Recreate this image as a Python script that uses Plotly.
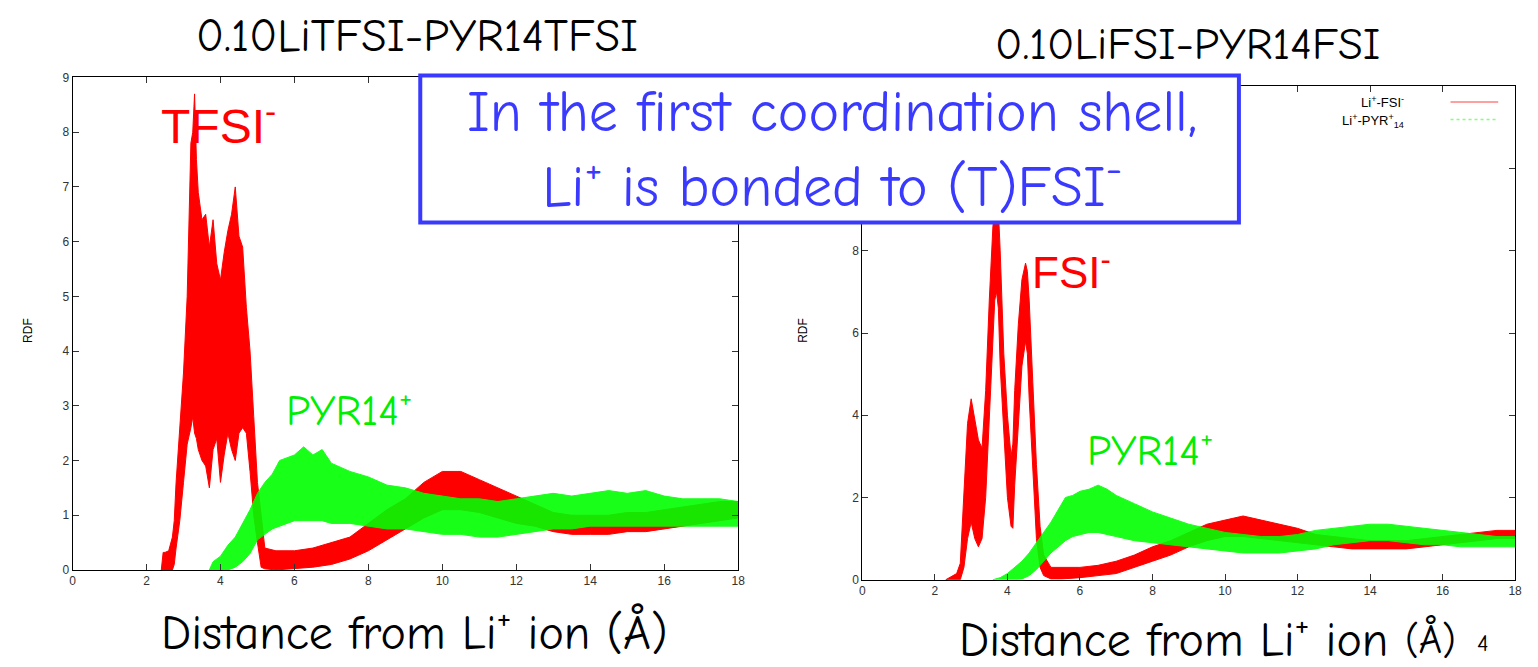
import plotly.graph_objects as go

W, H = 1538, 667

# ---------------- data ----------------
# Left panel: 0.10LiTFSI-PYR14TFSI   (noisy RDF -> lower / upper envelopes)
tfsi_x = [2.4, 2.45, 2.5, 2.6, 2.7, 2.75, 2.8, 2.9, 3.0, 3.1, 3.2, 3.25, 3.3, 3.35, 3.4, 3.5,
          3.6, 3.7, 3.8, 3.9, 4.0, 4.1, 4.2, 4.3, 4.4, 4.5, 4.6, 4.7, 4.8, 4.9, 5.0, 5.1,
          5.2, 5.5, 6.0, 6.5, 7.0, 7.5, 8.0, 8.5, 9.0, 9.5, 10.0, 10.5, 11.0, 11.5, 12.0,
          12.5, 13.0, 13.5, 14.0, 14.5, 15.0, 15.5, 16.0, 16.5, 17.0, 17.5, 18.0]
tfsi_hi = [0, 0.32, 0.32, 0.35, 0.6, 0.9, 1.6, 2.6, 3.6, 5.0, 7.8, 8.0, 8.7, 7.5, 6.9, 6.4,
           6.5, 5.9, 6.4, 5.6, 5.3, 5.8, 6.2, 6.5, 7.0, 6.1, 5.9, 4.8, 4.0, 2.8, 1.6, 1.0,
           0.4, 0.35, 0.35, 0.4, 0.5, 0.6, 0.85, 1.1, 1.3, 1.6, 1.8, 1.8, 1.65, 1.5, 1.35,
           1.2, 1.05, 1.0, 1.0, 1.0, 1.05, 1.05, 1.1, 1.15, 1.2, 1.25, 1.25]
tfsi_lo = [0, 0, 0, 0, 0, 0.1, 0.4, 0.9, 1.6, 2.3, 2.6, 2.8, 2.5, 2.4, 2.2, 2.0,
           1.9, 1.5, 2.2, 2.4, 1.6, 2.1, 2.5, 2.2, 2.0, 2.5, 2.6, 2.5, 1.8, 1.0, 0.5, 0.05,
           0.02, 0.0, 0.02, 0.05, 0.1, 0.2, 0.35, 0.55, 0.75, 0.95, 1.1, 1.1, 1.05, 0.95, 0.85,
           0.8, 0.7, 0.65, 0.65, 0.65, 0.7, 0.7, 0.75, 0.8, 0.85, 0.9, 0.95]

pyr_l_x = [3.7, 3.8, 4.0, 4.2, 4.4, 4.6, 4.8, 5.0, 5.2, 5.4, 5.6, 5.8, 6.0, 6.25, 6.5, 6.75,
           7.0, 7.5, 8.0, 8.5, 9.0, 9.5, 10.0, 10.5, 11.0, 11.5, 12.0, 12.5, 13.0, 13.5,
           14.0, 14.5, 15.0, 15.5, 16.0, 16.5, 17.0, 17.5, 18.0]
pyr_l_hi = [0, 0.15, 0.25, 0.45, 0.6, 0.85, 1.1, 1.4, 1.6, 1.75, 2.0, 2.05, 2.1, 2.25, 2.1, 2.2,
            1.95, 1.8, 1.7, 1.55, 1.5, 1.4, 1.35, 1.3, 1.3, 1.25, 1.3, 1.35, 1.4, 1.35,
            1.4, 1.45, 1.4, 1.45, 1.35, 1.3, 1.3, 1.3, 1.25]
pyr_l_lo = [0, 0, 0, 0, 0.05, 0.15, 0.3, 0.55, 0.65, 0.75, 0.8, 0.85, 0.9, 0.9, 0.9, 0.9,
            0.85, 0.85, 0.8, 0.75, 0.75, 0.7, 0.65, 0.65, 0.6, 0.6, 0.65, 0.7, 0.75, 0.75,
            0.8, 0.8, 0.8, 0.8, 0.8, 0.8, 0.8, 0.8, 0.8]

# Right panel: 0.10LiFSI-PYR14FSI
fsi_x = [2.3, 2.4, 2.5, 2.6, 2.7, 2.8, 2.9, 3.0, 3.1, 3.2, 3.3, 3.4, 3.5, 3.6, 3.65, 3.7,
         3.75, 3.8, 3.9, 4.0, 4.1, 4.15, 4.2, 4.3, 4.4, 4.5, 4.55, 4.6, 4.7, 4.8, 4.9, 5.0,
         5.2, 5.5, 6.0, 6.5, 7.0, 7.5, 8.0, 8.5, 9.0, 9.5, 10.0, 10.5, 11.0, 11.5, 12.0,
         12.5, 13.0, 13.5, 14.0, 14.5, 15.0, 15.5, 16.0, 16.5, 17.0, 17.5, 18.0]
fsi_hi = [0, 0.05, 0.1, 0.15, 0.4, 2.0, 3.8, 4.4, 3.9, 3.4, 3.2, 4.6, 6.8, 8.6, 8.9, 9.2,
          9.0, 8.0, 5.5, 4.0, 3.0, 3.3, 4.6, 6.2, 7.3, 7.7, 7.5, 6.8, 4.8, 2.8, 1.3, 0.6,
          0.3, 0.3, 0.3, 0.35, 0.45, 0.6, 0.8, 0.95, 1.15, 1.35, 1.45, 1.55, 1.45, 1.35, 1.25,
          1.1, 1.05, 1.0, 0.95, 0.95, 0.95, 1.0, 1.05, 1.1, 1.15, 1.2, 1.2]
fsi_lo = [0, 0, 0, 0, 0, 0.3, 1.0, 1.4, 1.0, 0.8, 1.0, 2.0, 3.8, 5.8, 6.8, 7.0,
          6.6, 5.2, 3.5, 2.0, 1.3, 1.25, 2.3, 3.8, 5.2, 5.8, 5.5, 4.4, 2.6, 1.0, 0.3, 0.1,
          0.02, 0.02, 0.05, 0.1, 0.15, 0.3, 0.45, 0.6, 0.8, 0.95, 1.05, 1.05, 1.0, 0.95, 0.9,
          0.85, 0.8, 0.75, 0.75, 0.75, 0.75, 0.8, 0.85, 0.9, 0.95, 1.0, 1.0]

pyr_r_x = [3.6, 3.8, 4.0, 4.2, 4.4, 4.6, 4.8, 5.0, 5.2, 5.4, 5.6, 5.8, 6.0, 6.25, 6.5, 6.75,
           7.0, 7.5, 8.0, 8.5, 9.0, 9.5, 10.0, 10.5, 11.0, 11.5, 12.0, 12.5, 13.0, 13.5,
           14.0, 14.5, 15.0, 15.5, 16.0, 16.5, 17.0, 17.5, 18.0]
pyr_r_hi = [0, 0.05, 0.15, 0.3, 0.45, 0.65, 0.9, 1.15, 1.4, 1.7, 2.0, 2.05, 2.15, 2.2, 2.3, 2.2,
            2.05, 1.85, 1.65, 1.5, 1.35, 1.25, 1.15, 1.1, 1.05, 1.05, 1.1, 1.2, 1.25, 1.3,
            1.35, 1.35, 1.3, 1.25, 1.2, 1.15, 1.1, 1.05, 1.05]
pyr_r_lo = [0, 0, 0, 0, 0.02, 0.1, 0.25, 0.45, 0.65, 0.8, 0.95, 1.05, 1.1, 1.15, 1.15, 1.1,
            1.05, 0.95, 0.9, 0.85, 0.8, 0.75, 0.7, 0.65, 0.65, 0.65, 0.7, 0.75, 0.85, 0.9,
            0.95, 0.95, 0.9, 0.85, 0.85, 0.8, 0.8, 0.8, 0.8]

x_ticks = [0, 2, 4, 6, 8, 10, 12, 14, 16, 18]
y_ticks_left = [0, 1, 2, 3, 4, 5, 6, 7, 8, 9]
y_ticks_right = [0, 2, 4, 6, 8, 10, 12]
# labels 10 and 12 of the right panel are hidden behind the message box
y_ticktext_right = ["0", "2", "4", "6", "8", "", ""]

RED = "#ff0000"
GREEN = "#00ff00"
BLUE = "#3a3aff"
COMIC = "Comic Neue, DejaVu Sans, sans-serif"
SANS = "Liberation Sans, Arial, sans-serif"


def px(x):
    return x / W


def py(y):
    return 1 - y / H


def band(x, lo, hi, color, xa, ya, opacity=1.0):
    return go.Scatter(
        x=list(x) + list(x)[::-1],
        y=list(hi) + list(lo)[::-1],
        fill="toself", fillcolor=color, opacity=opacity,
        line=dict(color=color, width=1),
        mode="lines", hoverinfo="skip", showlegend=False,
        xaxis=xa, yaxis=ya,
    )


fig = go.Figure()
fig.add_trace(band(tfsi_x, tfsi_lo, tfsi_hi, RED, "x", "y"))
fig.add_trace(band(pyr_l_x, pyr_l_lo, pyr_l_hi, GREEN, "x", "y", 0.9))
fig.add_trace(band(fsi_x, fsi_lo, fsi_hi, RED, "x2", "y2"))
fig.add_trace(band(pyr_r_x, pyr_r_lo, pyr_r_hi, GREEN, "x2", "y2", 0.9))

axis_common = dict(showline=True, linecolor="black", linewidth=1, mirror="ticks",
                   ticks="inside", ticklen=6, tickcolor="#333", showgrid=False,
                   zeroline=False, tickfont=dict(family=SANS, size=12, color="#333"))

fig.update_layout(
    width=W, height=H,
    margin=dict(l=0, r=0, t=0, b=0),
    paper_bgcolor="white", plot_bgcolor="white",
    showlegend=False,
    xaxis=dict(domain=[px(70), px(740)], range=[0, 18], tickvals=x_ticks, anchor="y", **axis_common),
    yaxis=dict(domain=[py(575), py(72)], range=[0, 9], tickvals=y_ticks_left, anchor="x", **axis_common),
    xaxis2=dict(domain=[px(865), px(1522)], range=[0, 18], tickvals=x_ticks, anchor="y2", **axis_common),
    yaxis2=dict(domain=[py(585), py(81)], range=[0, 12], tickvals=y_ticks_right,
                ticktext=y_ticktext_right, anchor="x2", **axis_common),
)

ann = []


def add_text(text, x, y, size, color="black", family=COMIC, xanchor="center", **kw):
    ann.append(dict(text=text, x=px(x), y=py(y), xref="paper", yref="paper",
                    xanchor=xanchor, yanchor="middle",
                    showarrow=False, font=dict(family=family, size=size, color=color), **kw))


add_text("0.10LiTFSI-PYR14TFSI", 417, 30, 46)
add_text("0.10LiFSI-PYR14FSI", 1192, 38, 45)
add_text("Distance from Li<sup>+</sup> ion (Å)", 414, 636, 48)
add_text("Distance from Li<sup>+</sup> ion", 1178, 643, 48)
add_text("(Å)", 1437, 646, 40)
add_text("4", 1490, 650, 24)
add_text("RDF", 25, 330, 12, family=SANS, textangle=-90)
add_text("RDF", 805, 330, 12, family=SANS, textangle=-90)
add_text("TFSI<sup>-</sup>", 217, 118, 48, color=RED, family=SANS)
add_text("PYR14<sup>+</sup>", 348, 410, 43, color="#00ee00")
add_text("FSI<sup>-</sup>", 1075, 268, 44, color=RED, family=SANS)
add_text("PYR14<sup>+</sup>", 1155, 450, 43, color="#00ee00")

# legend (right panel)
add_text("Li<sup>+</sup>-FSI<sup>-</sup>", 1412, 97, 13,
         family="Liberation Sans Narrow, Liberation Sans", xanchor="right")
add_text("Li<sup>+</sup>-PYR<sup>+</sup><sub>14</sub>", 1412, 116, 13,
         family="Liberation Sans Narrow, Liberation Sans", xanchor="right")

# message box text (one two-line text)
add_text("In the first coordination shell,<br>Li<sup>+</sup> is bonded to (T)FSI<sup>-</sup>",
         834, 146, 58, color=BLUE, align="center")

fig.update_layout(annotations=ann)

# message box frame (white, covers what lies beneath)
fig.add_shape(type="rect", xref="paper", yref="paper", x0=px(420), x1=px(1244),
              y0=py(220), y1=py(70), fillcolor="white", line=dict(color=BLUE, width=4),
              layer="above")

fig.add_shape(type="line", xref="paper", yref="paper", x0=px(1457), x1=px(1505),
              y0=py(97), y1=py(97), line=dict(color="#ff8080", width=1.5))
fig.add_shape(type="line", xref="paper", yref="paper", x0=px(1457), x1=px(1505),
              y0=py(115), y1=py(115), line=dict(color="#80ff80", width=1.5, dash="dot"))

fig.write_html("out.html")
